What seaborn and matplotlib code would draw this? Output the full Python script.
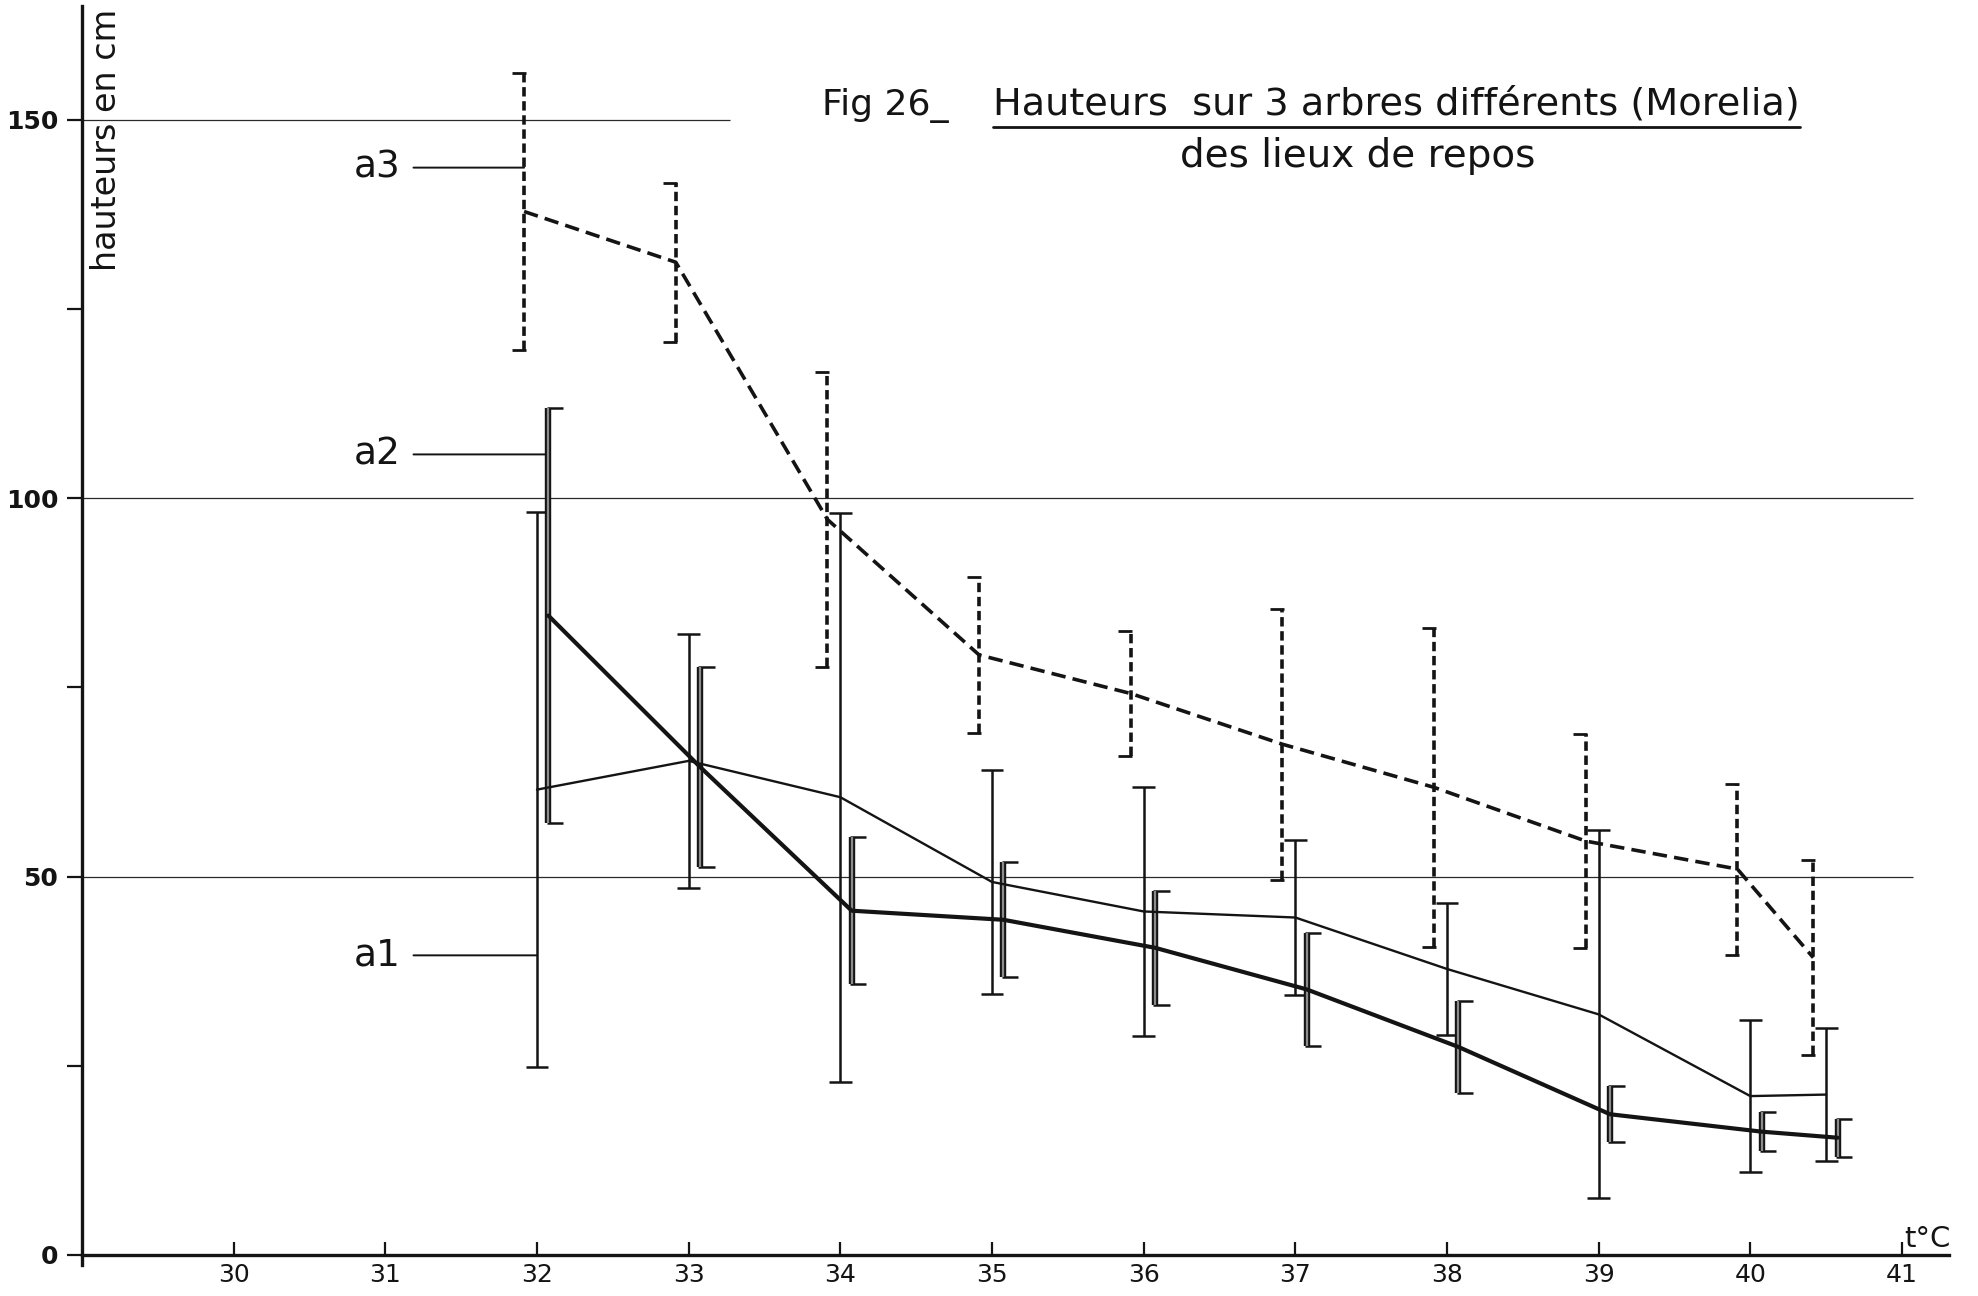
import matplotlib
matplotlib.use("Agg")
import numpy as np
import pandas as pd
import matplotlib.pyplot as plt
import seaborn as sns

# ---------------- data ----------------
temps = [32, 33, 34, 35, 36, 37, 38, 39, 40, 40.5]

a1_mean = [61.5, 65.3, 60.5, 49.3, 45.4, 44.6, 37.8, 31.8, 21.0, 21.2]
a1_err = [36.7, 16.8, 37.6, 14.8, 16.5, 10.3, 8.7, 24.3, 10.0, 8.8]

a2_mean = [84.5, 64.5, 45.5, 44.3, 40.6, 35.1, 27.5, 18.6, 16.3, 15.5]
a2_err = [27.4, 13.2, 9.7, 7.6, 7.5, 7.5, 6.1, 3.7, 2.6, 2.5]

a3_mean = [137.9, 131.2, 97.2, 79.3, 74.2, 67.5, 61.8, 54.7, 51.0, 39.3]
a3_err = [18.3, 10.5, 19.5, 10.3, 8.3, 17.9, 21.1, 14.1, 11.3, 12.9]

series_names = ["a1", "a2", "a3"]
label_heights = [39.6, 105.8, 143.7]

x_ticks = [30, 31, 32, 33, 34, 35, 36, 37, 38, 39, 40, 41]
y_ticks = [0, 50, 100, 150]
y_minor_ticks = [25, 75, 125]
grid_full = [50, 100]
grid_short = [150]

title_prefix = "Fig 26_"
title_main = "Hauteurs  sur 3 arbres différents (Morelia)"
title_sub = "des lieux de repos"
y_label = "hauteurs en cm"
x_label = "t°C"

# ---------------- styling ----------------
W, H = 1978, 1296
INK = "#141414"
sns.set_theme(style="white")
plt.rcParams["font.family"] = ["DejaVu Sans"]

fig = plt.figure(figsize=(W / 100, H / 100), dpi=100)
x_lo, x_hi = 29.0, 41.31
y_lo, y_hi = -1.3, 165.0
px_per_unit = 7.567
ax_left, ax_right = 82, 1949
ax_bottom_px = 1255 + (-y_lo) * px_per_unit
ax_top_px = 1255 - y_hi * px_per_unit
ax = fig.add_axes([ax_left / W, 1 - ax_bottom_px / H,
                   (ax_right - ax_left) / W, (ax_bottom_px - ax_top_px) / H])
ax.set_xlim(x_lo, x_hi)
ax.set_ylim(y_lo, y_hi)
ax.set_facecolor("white")

# spines
for s in ["top", "right"]:
    ax.spines[s].set_visible(False)
ax.spines["bottom"].set_position(("data", 0))
ax.spines["bottom"].set_linewidth(2.4)
ax.spines["left"].set_linewidth(2.4)
ax.spines["bottom"].set_color(INK)
ax.spines["left"].set_color(INK)

# reference lines
ax.hlines(grid_full, x_lo, 41.07, color="#2a2a2a", lw=0.9, zorder=1)
ax.hlines(grid_short, x_lo, 33.27, color="#2a2a2a", lw=0.9, zorder=1)

# ---------------- series ----------------
offsets = {"a1": 0.0, "a2": 0.075, "a3": -0.085}
means = {"a1": a1_mean, "a2": a2_mean, "a3": a3_mean}
errs = {"a1": a1_err, "a2": a2_err, "a3": a3_err}

frames = []
for name in series_names:
    frames.append(pd.DataFrame({
        "temp": np.array(temps) + offsets[name],
        "hauteur": means[name],
        "err": errs[name],
        "arbre": name,
    }))
df = pd.concat(frames, ignore_index=True)

line_style = {
    "a1": dict(lw=1.7, linestyle="-"),
    "a2": dict(lw=3.0, linestyle="-"),
    "a3": dict(lw=2.6, linestyle=(0, (4.0, 2.0))),
}
for name in series_names:
    sub = df[df["arbre"] == name]
    sns.lineplot(data=sub, x="temp", y="hauteur", ax=ax, color=INK,
                 estimator=None, sort=False, legend=False, zorder=4,
                 **line_style[name])

# error bars
cap = 0.075
for name in series_names:
    sub = df[df["arbre"] == name]
    x = sub["temp"].to_numpy()
    lo = (sub["hauteur"] - sub["err"]).to_numpy()
    hi = (sub["hauteur"] + sub["err"]).to_numpy()
    if name == "a1":
        ax.vlines(x, lo, hi, color=INK, lw=1.8, zorder=3)
        ax.hlines(np.r_[lo, hi], np.r_[x, x] - cap, np.r_[x, x] + cap,
                  color=INK, lw=1.8, zorder=3)
    elif name == "a2":
        ax.vlines(x, lo, hi, color=INK, lw=4.6, zorder=3)
        ax.vlines(x, lo, hi, color="#8c8c8c", lw=1.6, zorder=3.1)
        ax.hlines(np.r_[lo, hi], np.r_[x, x] - 0.012, np.r_[x, x] + cap * 1.3,
                  color=INK, lw=1.8, zorder=3)
    else:
        ax.vlines(x, lo, hi, color=INK, lw=2.6, linestyles=[(0, (2.6, 1.3))],
                  zorder=3)
        ax.hlines(np.r_[lo, hi], np.r_[x, x] - cap * 1.1, np.r_[x, x] + 0.01,
                  color=INK, lw=2.0, zorder=3)

# series labels with leader lines
for name, yl in zip(series_names, label_heights):
    ax.annotate(name, xy=(temps[0] + offsets[name], yl), xytext=(31.10, yl),
                ha="right", va="center", fontsize=27, color=INK,
                arrowprops=dict(arrowstyle="-", lw=1.4, color=INK,
                                shrinkA=7, shrinkB=0))

# ticks
ax.set_xticks(x_ticks)
ax.set_xticklabels([str(t) for t in x_ticks])
ax.set_yticks(y_ticks)
ax.set_yticks(y_minor_ticks, minor=True)
ax.set_yticklabels([str(t) for t in y_ticks])
ax.tick_params(axis="x", which="major", direction="in", length=9.5, width=1.6,
               color=INK, labelsize=18, labelcolor=INK, pad=6, bottom=True)
ax.tick_params(axis="y", which="both", direction="out", length=11, width=1.6,
               color=INK, labelsize=18, labelcolor=INK, pad=6, left=True)
for lab in ax.get_yticklabels():
    lab.set_fontweight("bold")
ax.set_xlabel("")
ax.set_ylabel("")

# axis captions
fig.text(1951 / W, 1 - 1247 / H, x_label, ha="right", va="baseline",
         fontsize=21, color=INK)
fig.text(106 / W, 1 - 140 / H, y_label, rotation=90, ha="center", va="center",
         fontsize=24, color=INK)

# title
fig.text(822 / W, 1 - 115 / H, title_prefix, ha="left", va="baseline",
         fontsize=26, color=INK)
t_main = fig.text(993 / W, 1 - 115 / H, title_main, ha="left", va="baseline",
                  fontsize=27.5, color=INK)
fig.text(1358 / W, 1 - 167 / H, title_sub, ha="center", va="baseline",
         fontsize=28, color=INK)

fig.canvas.draw()
bb = t_main.get_window_extent(renderer=fig.canvas.get_renderer())
uy = 1 - 127 / H
fig.add_artist(matplotlib.lines.Line2D([bb.x0 / W, bb.x1 / W], [uy, uy],
                                       color=INK, lw=2.0))

fig.savefig("out.png", dpi=100, facecolor="white")
